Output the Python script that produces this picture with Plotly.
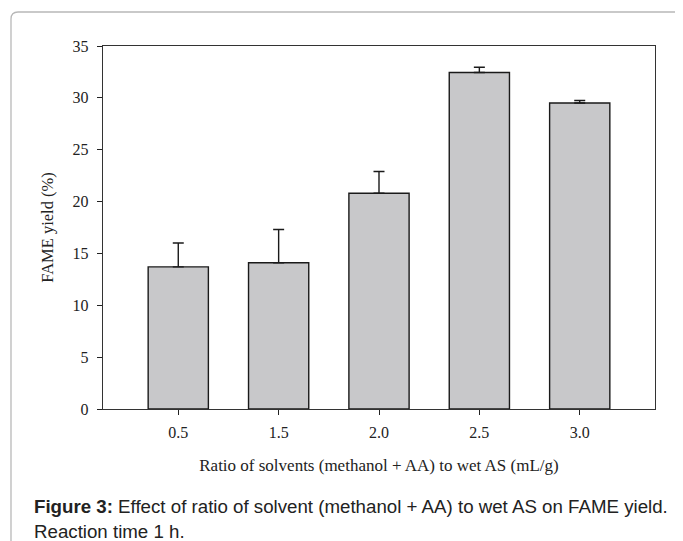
import plotly.graph_objects as go

categories = ["0.5", "1.5", "2.0", "2.5", "3.0"]
yield_pct = [13.7, 14.1, 20.8, 32.45, 29.5]
yield_err = [2.3, 3.2, 2.1, 0.5, 0.25]
y_ticks = [0, 5, 10, 15, 20, 25, 30, 35]

# page has an 8px body margin; work in figure coordinates = page - 8
OFF = 8
W, H = 683 - OFF, 541 - OFF
L, R, T, B = 103 - OFF, 655 - OFF, 46 - OFF, 409 - OFF


def px(x):
    return (x - OFF - L) / (R - L)


def py(y):
    return (B - (y - OFF)) / (B - T)


fig = go.Figure()
fig.add_trace(go.Bar(
    x=list(range(len(categories))),
    y=yield_pct,
    width=0.6,
    marker=dict(color="#c8c8ca", line=dict(color="#1a1a1a", width=1.4)),
    error_y=dict(type="data", array=yield_err, symmetric=False,
                 arrayminus=[0] * len(yield_err),
                 color="#1a1a1a", thickness=1.4, width=5.5),
))

r = 7
frame_path = (f"M {px(11)},{py(560)} L {px(11)},{py(12 + r)} "
              f"Q {px(11)},{py(12)} {px(11 + r)},{py(12)} L {px(700)},{py(12)}")

serif = "Liberation Serif"
sans = "Liberation Sans"

fig.update_layout(
    width=W, height=H,
    margin=dict(l=L, r=W - R, t=T, b=H - B),
    paper_bgcolor="white", plot_bgcolor="white",
    showlegend=False,
    font=dict(family=serif, color="#222"),
    xaxis=dict(
        range=[-0.75, 4.75],
        tickmode="array",
        tickvals=list(range(len(categories))),
        ticktext=categories,
        ticks="outside", ticklen=5, tickcolor="#222", tickwidth=1.3,
        ticklabelstandoff=4,
        showline=True, linecolor="#333", linewidth=1.4, mirror=True,
        showgrid=False, zeroline=False,
        tickfont=dict(size=16, family=serif, color="#222"),
        title=dict(text="Ratio of solvents (methanol + AA) to wet AS (mL/g)",
                   font=dict(size=17, family=serif, color="#222"), standoff=18),
    ),
    yaxis=dict(
        range=[0, 35],
        tickmode="array", tickvals=y_ticks,
        ticks="outside", ticklen=5, tickcolor="#222", tickwidth=1.3,
        ticklabelstandoff=5,
        showline=True, linecolor="#333", linewidth=1.4, mirror=True,
        showgrid=False, zeroline=False,
        tickfont=dict(size=16, family=serif, color="#222"),
        title=dict(text="FAME yield (%)",
                   font=dict(size=16.5, family=serif, color="#222"), standoff=14),
    ),
    shapes=[dict(type="path", path=frame_path, xref="paper", yref="paper",
                 line=dict(color="#b8b8b8", width=1.3), layer="below")],
    annotations=[
        dict(text="<b>Figure 3:</b> Effect of ratio of solvent (methanol + AA) to wet AS on FAME yield.",
             xref="paper", yref="paper", x=px(32), y=py(506),
             xanchor="left", yanchor="middle", showarrow=False,
             font=dict(family=sans, size=18.7, color="#222")),
        dict(text="Reaction time 1 h.",
             xref="paper", yref="paper", x=px(32), y=py(531),
             xanchor="left", yanchor="middle", showarrow=False,
             font=dict(family=sans, size=18.7, color="#222")),
    ],
)

fig.write_html("out.html")
